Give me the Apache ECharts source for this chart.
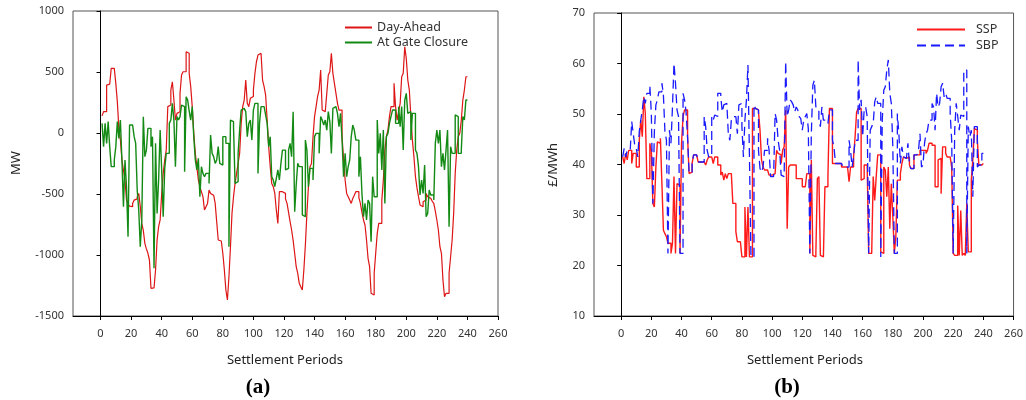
<!DOCTYPE html>
<html>
  <head>
    <meta charset="utf-8" />
    <title>Imbalance volumes and prices</title>
    <script src="https://cdn.jsdelivr.net/npm/echarts@6/dist/echarts.min.js"></script>
  </head>
  <body style="margin:0">
    <div id="main" style="width: 1026px;height:400px;"></div>
    <script type="text/javascript">
      // settlement-period tick labels
      var xTicks = [0, 20, 40, 60, 80, 100, 120, 140, 160, 180, 200, 220, 240, 260];

      // (a) MW
      var dayAhead = [
        140,130,175,175,393,400,407,530,530,516,407,257,38,-58,-220,-303,-385,-550,-580,-600,
        -604,-577,-550,-540,-522,-495,-600,-741,-800,-904,-950,-986,-1041,-1273,-1270,-1260,-1123,-877,-768,-713,
        -500,-331,-221,-140,216,229,352,420,270,106,161,175,325,475,502,502,666,653,489,380,
        216,-3,-167,-276,-385,-440,-480,-522,-631,-604,-577,-467,-495,-510,-522,-577,-727,-877,-885,-891,
        -986,-1123,-1287,-1369,-1178,-932,-659,-522,-413,-331,-250,-167,79,216,270,434,243,216,284,300,
        352,489,584,639,653,653,434,380,311,106,-112,-276,-413,-440,-495,-631,-741,-481,-481,-495,
        -495,-540,-577,-650,-727,-795,-880,-986,-1096,-1150,-1232,-1260,-1287,-1123,-918,-659,-440,-276,-249,-30,
        134,216,300,352,516,188,175,175,325,475,502,653,489,407,325,243,188,188,-30,-221,
        -385,-495,-522,-550,-577,-536,-510,-481,-481,-530,-577,-650,-713,-754,-877,-1027,-1096,-1314,-1328,-1150,
        -986,-823,-741,-741,-550,-385,-140,-30,24,134,216,216,407,216,106,175,243,461,489,707,
        612,434,352,134,-58,-194,-358,-450,-522,-590,-604,-563,-550,-495,-522,-536,-550,-560,-577,-640,
        -713,-795,-932,-986,-1205,-1342,-1314,-1314,-1150,-1014,-877,-659,-331,-140,-30,-3,106,270,352,461
      ];
      var gateClosure = [
        79,65,-112,79,-85,93,-112,-276,-276,-221,-112,93,-44,106,-221,-604,-221,-440,-850,65,
        65,52,-30,-85,-467,-631,-932,-713,134,-194,-140,38,38,-112,-30,-1109,-85,-659,-385,24,
        -303,-686,-290,-167,-167,79,106,243,106,-276,134,106,134,229,216,-317,297,270,180,106,
        216,-30,-221,-303,-208,-522,-276,-331,-358,-331,-331,-413,-17,-167,-194,-249,-221,-112,-249,-263,
        -30,-30,-85,-85,-932,106,93,52,-413,-399,-167,24,188,202,202,175,-30,79,106,-58,
        188,243,243,-331,79,216,216,216,148,79,-112,-30,-358,-385,-440,-372,-303,-385,-249,-140,
        -140,-303,-290,-140,-85,-194,175,-645,-426,-249,-276,-276,-672,-686,-58,-140,-440,-290,-290,-385,
        -30,-3,-3,-167,134,106,65,106,24,175,93,-167,202,216,216,161,52,161,-58,-358,
        -167,-358,-276,-221,-30,65,24,-58,-58,-358,-194,-495,-686,-577,-713,-550,-577,-891,-358,-522,
        -522,106,-167,-3,-303,24,-577,-30,-3,79,134,188,188,79,79,216,52,216,-140,270,
        325,161,175,-58,161,161,-140,-167,-276,-508,-385,-495,-263,-686,-659,-467,-508,-508,-550,-85,
        24,-85,24,-276,-167,-303,-140,24,-768,-112,-167,-167,148,134,-167,-167,-140,134,106,270
      ];

      // (b) £/MWh
      var ssp = [
        41.5,41.5,40.2,42.2,40.9,42.8,42.8,40.2,42.2,42.2,39.5,39.5,44.8,48.8,45.5,53.4,50.1,37.2,37.2,44.2,
        42.8,32.3,31.6,39.5,44.5,44.2,45.2,36.2,27,26.3,25.7,24.4,24.4,22.4,24.4,37.6,22.4,36.2,35.9,22.4,
        44.2,49.5,50.8,50.8,45.5,38.2,38.5,40.2,41.9,41.9,41.9,40.5,40.5,40.5,40.5,40.5,39.9,40.9,41.5,41.5,
        41.5,40.2,41.5,41.5,39.9,39.9,37.9,38.5,36.9,38.2,37.2,38.2,38.2,38.2,32.3,32.3,26.7,24.7,24.7,24.7,
        21.7,21.7,31.6,21.7,31.6,21.7,21.7,51.1,51.1,50.8,50.8,50.4,46.8,40.9,39.5,38.9,38.9,38.9,37.9,37.9,
        37.9,38.2,38.2,42.8,42.2,41.9,40.2,42.8,43.5,50.8,27.3,39.5,39.9,39.9,39.9,39.9,37.2,37.2,37.2,37.2,
        35.6,35.6,35.6,38.2,38.2,22.4,40.9,22,21.7,22.4,37.2,37.6,22,21.7,21.7,35.6,35.6,37.6,51.1,51.1,
        40.2,40.2,40.2,40.2,40.2,40.2,39.5,39.5,39.5,39.5,39.5,36.6,39.5,39.5,41.5,45.5,50.4,51.1,51.1,36.9,
        37.2,39.9,39.9,39.9,22.4,22.4,22.4,37.6,32.9,37.6,41.9,41.9,22.7,22.4,39.5,38.9,33.6,39.5,27.3,36.2,
        29.6,22.4,25.7,36.9,36.9,38.2,40.2,41.5,41.2,41.2,41.5,39.9,39.2,39.2,41.9,41.9,41.9,41.9,42.8,42.8,
        42.8,42.8,42.2,42.8,44.2,44.2,43.8,43.8,35.6,35.6,40.9,41.2,34.2,43.5,43.5,42.2,41.5,41.5,41.5,39.5,
        22.4,22,22,31.9,22,30.9,22,22.4,22,32.3,22.7,22.7,36.9,40.9,47.1,46.8,44.8,39.9,39.9,40.2
      ];
      var sbp = [
        41.5,41.5,43.2,41.5,42.8,42.8,42.8,48.5,46.1,43.8,43.2,41.5,46.5,48.8,50.8,53.4,52.1,54.1,54.1,55.7,
        50.1,32.3,46.5,51.8,52.8,54.4,54.4,56.1,53.7,46.5,44.8,22.4,46.8,44.2,51.4,60,56.1,50.8,49.5,22.4,
        22.4,54.1,52.8,50.4,45.5,38.2,38.5,40.2,41.9,41.9,41.9,40.5,40.5,40.5,40.5,49.5,47.5,42.8,41.5,41.5,
        49.5,48.8,49.8,49.5,54.1,54.1,53.4,50.4,51.8,52.1,52.4,46.1,44.8,48.8,49.5,49.5,49.5,46.1,51.8,52.1,
        47.5,41.5,48.8,52.8,59.7,41.5,21.7,21.7,51.8,51.1,50.8,42.8,39.2,38.5,39.5,42.8,42.8,45.2,42.8,37.6,
        37.6,37.6,50.1,48.8,44.8,42.8,37.9,37.6,37.6,60.4,49.5,50.8,52.8,52.4,51.8,50.4,51.4,50.8,49.5,49.1,
        46.8,48.8,49.5,50.1,47.1,22.4,46.1,55.7,56.7,51.4,51.1,48.5,47.5,51.4,48.8,48.8,49.1,48.1,50.8,50.8,
        44.8,43.5,40.2,40.2,40.2,40.2,39.9,39.5,39.5,39.5,39.5,44.8,42.8,39.5,41.5,44.8,44.8,60.7,50.8,52.8,
        45.5,50.8,51.4,49.5,22.4,46.8,47.5,48.1,52.4,53.4,52.1,52.1,21.7,48.8,54.7,55.4,58.7,60.7,54.1,52.1,
        43.5,22.4,22.4,50.1,46.1,40.2,43.5,41.5,41.2,41.2,44.2,39.9,39.2,39.2,41.9,41.9,41.9,42.8,46.1,39.5,
        39.9,44.2,46.1,46.8,48.8,48.8,52.1,51.4,46.8,54.1,51.4,52.1,55.4,56.1,53.4,54.1,53.1,53.1,50.1,44.8,
        22.4,46.8,52.1,49.5,46.8,49.8,49.5,58.7,58.7,22.4,47.5,45.5,46.8,33.6,47.5,47.5,39.5,39.9,39.9,42.2
      ];

      function pairs(vals) {
        var out = [];
        for (var i = 0; i < vals.length; i++) out.push([i + 1, vals[i]]);
        return out;
      }

      var font = '"Noto Sans", sans-serif';
      var lbl = { color: '#333', fontSize: 11, fontFamily: font, formatter: function (v) { return String(v); } };

      function xAxisFor(idx) {
        return {
          type: 'value', gridIndex: idx, min: -18, max: 260,
          axisLine: { onZero: false, lineStyle: { color: '#000' } },
          axisTick: { customValues: xTicks, length: 4, lineStyle: { color: '#000' } },
          axisLabel: Object.assign({ customValues: xTicks, margin: 12 }, lbl),
          splitLine: { show: false }
        };
      }

      var myChart = echarts.init(document.getElementById('main'));
      var option = {
        animation: false,
        grid: [
          { left: 73, top: 11, width: 425, height: 305, show: true, borderColor: '#555', borderWidth: 1 },
          { left: 594, top: 13, width: 423, height: 303, show: true, borderColor: '#555', borderWidth: 1 }
        ],
        xAxis: [xAxisFor(0), xAxisFor(1)],
        yAxis: [
          {
            type: 'value', gridIndex: 0, min: -1500, max: 1000, interval: 500,
            axisLine: { show: true, lineStyle: { color: '#000' } },
            axisTick: { show: true, length: 4, lineStyle: { color: '#000' } },
            axisLabel: Object.assign({ margin: 9 }, lbl),
            splitLine: { show: false }
          },
          {
            type: 'value', gridIndex: 1, min: 10, max: 70, interval: 10,
            axisLine: { show: true, lineStyle: { color: '#000' } },
            axisTick: { show: true, length: 4, lineStyle: { color: '#000' } },
            axisLabel: Object.assign({ margin: 9 }, lbl),
            splitLine: { show: false }
          }
        ],
        legend: [
          {
            orient: 'vertical', left: 339, top: 16, itemWidth: 27, itemHeight: 14, itemGap: 2,
            itemStyle: { opacity: 0 },
            textStyle: { color: '#333', fontSize: 12.5, fontFamily: font },
            data: ['Day-Ahead', 'At Gate Closure']
          },
          {
            orient: 'vertical', left: 911, top: 18, itemWidth: 48, itemHeight: 14, itemGap: 3,
            itemStyle: { opacity: 0 },
            textStyle: { color: '#333', fontSize: 12.5, fontFamily: font, padding: [0, 0, 0, 6] },
            data: ['SSP', 'SBP']
          }
        ],
        graphic: [
          { type: 'text', x: 16, y: 163, rotation: Math.PI / 2,
            style: { text: 'MW', align: 'center', verticalAlign: 'middle', fill: '#222', font: '13px ' + font } },
          { type: 'text', x: 553, y: 165, rotation: Math.PI / 2,
            style: { text: '£/MWh', align: 'center', verticalAlign: 'middle', fill: '#222', font: '13px ' + font } },
          { type: 'text', x: 285, y: 360,
            style: { text: 'Settlement Periods', align: 'center', verticalAlign: 'middle', fill: '#222', font: '13px ' + font } },
          { type: 'text', x: 805, y: 360,
            style: { text: 'Settlement Periods', align: 'center', verticalAlign: 'middle', fill: '#222', font: '13px ' + font } },
          { type: 'text', x: 258, y: 388,
            style: { text: '(a)', align: 'center', verticalAlign: 'middle', fill: '#000', font: 'bold 21px "Liberation Serif", serif' } },
          { type: 'text', x: 787, y: 388,
            style: { text: '(b)', align: 'center', verticalAlign: 'middle', fill: '#000', font: 'bold 21px "Liberation Serif", serif' } }
        ],
        series: [
          {
            name: 'Day-Ahead', type: 'line', xAxisIndex: 0, yAxisIndex: 0, step: 'start',
            symbol: 'none', color: '#dd1515', lineStyle: { width: 1.2, color: '#dd1515' },
            data: pairs(dayAhead)
          },
          {
            name: 'At Gate Closure', type: 'line', xAxisIndex: 0, yAxisIndex: 0, step: 'start',
            symbol: 'none', color: '#138a13', lineStyle: { width: 1.4, color: '#138a13' },
            data: pairs(gateClosure)
          },
          {
            name: 'SSP', type: 'line', xAxisIndex: 1, yAxisIndex: 1, step: 'start',
            symbol: 'none', color: '#ff1a1a', lineStyle: { width: 1.4, color: '#ff1a1a' },
            data: pairs(ssp)
          },
          {
            name: 'SBP', type: 'line', xAxisIndex: 1, yAxisIndex: 1, step: 'start',
            symbol: 'none', color: '#1a1aff', lineStyle: { width: 1.3, color: '#1a1aff', type: [9, 5] },
            data: pairs(sbp)
          }
        ]
      };
      myChart.setOption(option);
    </script>
  </body>
</html>
